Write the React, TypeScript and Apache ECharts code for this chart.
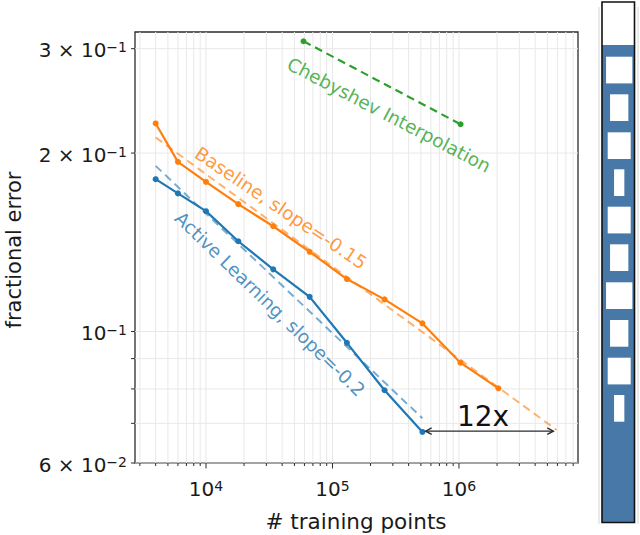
import React, { useEffect, useRef } from "react";
import * as echarts from "echarts";

// ---- data ----
const baselinePoints = [4000, 6000, 10000, 18000, 34000, 66000, 130000, 258000, 514000, 1026000, 2050000];
const baselineError = [0.2244, 0.1933, 0.1788, 0.164, 0.1505, 0.1363, 0.1226, 0.1133, 0.1032, 0.0886, 0.0802];
const activePoints = [4000, 6000, 10000, 18000, 34000, 66000, 130000, 258000, 514000];
const activeError = [0.1807, 0.171, 0.1596, 0.142, 0.1273, 0.1144, 0.0957, 0.0796, 0.0677];
const chebyshevPoints = [59000, 1030000];
const chebyshevError = [0.3088, 0.2237];
const baselineFitPoints = [4000, 5920000];
const baselineFitError = [0.2125, 0.0682];
const activeFitPoints = [4000, 514000];
const activeFitError = [0.1903, 0.0714];
// arrow: [from x, error, to x]
const speedupArrow = [545000, 0.0679, 5570000];

// ---- axes / ticks ----
const X_MIN = 2746;
const X_MAX = 8730000;
const Y_MIN = 0.06;
const Y_MAX = 0.3201;
const xMajorTicks = [10000, 100000, 1000000];
const xTickBase = ["10", "10", "10"];
const xTickExp = ["4", "5", "6"];
const xMinorTicks = [
  3000, 4000, 5000, 6000, 7000, 8000, 9000,
  20000, 30000, 40000, 50000, 60000, 70000, 80000, 90000,
  200000, 300000, 400000, 500000, 600000, 700000, 800000, 900000,
  2000000, 3000000, 4000000, 5000000, 6000000, 7000000, 8000000,
];
const yLabelTicks = [0.3, 0.2, 0.1, 0.06];
const yTickBase = ["3 \u00d7 10", "2 \u00d7 10", "10", "6 \u00d7 10"];
const yTickExp = ["\u22121", "\u22121", "\u22121", "\u22122"];
const yMinorTicks = [0.07, 0.08, 0.09];

const FONT = "DejaVu Sans";
const GRID_COLOR = "#e8e8e8";
const AXIS_COLOR = "#2b2b2b";
const ORANGE = "#ff7f0e";
const BLUE = "#1f77b4";
const GREEN = "#2ca02c";

const pairs = (xs: number[], ys: number[]) => xs.map((x, i) => [x, ys[i]]);

const tickRich = {
  b: { fontSize: 20, fontFamily: FONT, fill: "#1a1a1a", color: "#1a1a1a" },
  s: { fontSize: 14, fontFamily: FONT, fill: "#1a1a1a", color: "#1a1a1a", verticalAlign: "top" },
};

export default function App() {
  const ref = useRef<HTMLDivElement>(null);

  useEffect(() => {
    if (!ref.current) return;
    const chart = echarts.init(ref.current, undefined, { renderer: "svg" });

    const vGrid = (params: any, api: any) => {
      const x = api.coord([api.value(0), Y_MIN])[0];
      const cs = params.coordSys;
      return {
        type: "line",
        silent: true,
        shape: { x1: x, y1: cs.y, x2: x, y2: cs.y + cs.height },
        style: { stroke: GRID_COLOR, lineWidth: 1 },
      };
    };
    const hGrid = (params: any, api: any) => {
      const y = api.coord([X_MIN, api.value(1)])[1];
      const cs = params.coordSys;
      return {
        type: "line",
        silent: true,
        shape: { x1: cs.x, y1: y, x2: cs.x + cs.width, y2: y },
        style: { stroke: GRID_COLOR, lineWidth: 1 },
      };
    };
    const xTick = (len: number) => (params: any, api: any) => {
      const x = api.coord([api.value(0), Y_MIN])[0];
      const cs = params.coordSys;
      const b = cs.y + cs.height;
      return {
        type: "line",
        silent: true,
        shape: { x1: x, y1: b, x2: x, y2: b + len },
        style: { stroke: AXIS_COLOR, lineWidth: 1 },
      };
    };
    const yTick = (len: number) => (params: any, api: any) => {
      const y = api.coord([X_MIN, api.value(1)])[1];
      const cs = params.coordSys;
      return {
        type: "line",
        silent: true,
        shape: { x1: cs.x - len, y1: y, x2: cs.x, y2: y },
        style: { stroke: AXIS_COLOR, lineWidth: 1 },
      };
    };
    const xLabel = (params: any, api: any) => {
      const x = api.coord([api.value(0), Y_MIN])[0];
      const cs = params.coordSys;
      const i = api.value(2);
      return {
        type: "text",
        silent: true,
        x: x,
        y: cs.y + cs.height + 26,
        style: {
          text: "{b|" + xTickBase[i] + "}{s|" + xTickExp[i] + "}",
          rich: tickRich,
          fill: "#1a1a1a",
          fontSize: 20,
          fontFamily: FONT,
          align: "center",
          verticalAlign: "middle",
        },
      };
    };
    const yLabel = (params: any, api: any) => {
      const y = api.coord([X_MIN, api.value(1)])[1];
      const cs = params.coordSys;
      const i = api.value(2);
      return {
        type: "text",
        silent: true,
        x: cs.x - 8,
        y: y + 1.5,
        style: {
          text: "{b|" + yTickBase[i] + "}{s|" + yTickExp[i] + "}",
          rich: tickRich,
          fill: "#1a1a1a",
          fontSize: 20,
          fontFamily: FONT,
          align: "right",
          verticalAlign: "middle",
        },
      };
    };
    const arrow = (params: any, api: any) => {
      const p1 = api.coord([api.value(0), api.value(1)]);
      const p2 = api.coord([api.value(2), api.value(1)]);
      const hl = 6;
      const hw = 3.2;
      const st = { stroke: AXIS_COLOR, lineWidth: 1.4, fill: "none" };
      return {
        type: "group",
        silent: true,
        children: [
          { type: "line", shape: { x1: p1[0], y1: p1[1], x2: p2[0], y2: p2[1] }, style: st },
          {
            type: "polyline",
            shape: { points: [[p1[0] + hl, p1[1] - hw], [p1[0], p1[1]], [p1[0] + hl, p1[1] + hw]] },
            style: st,
          },
          {
            type: "polyline",
            shape: { points: [[p2[0] - hl, p2[1] - hw], [p2[0], p2[1]], [p2[0] - hl, p2[1] + hw]] },
            style: st,
          },
        ],
      };
    };

    const customBase = { type: "custom", coordinateSystem: "cartesian2d", clip: false, silent: true, animation: false };

    const whiteBlocks = [
      [56.7, 26.3], [94.3, 18.3], [132.3, 23], [169.3, 10.3], [206.7, 23],
      [244.3, 18.3], [282.3, 26.3], [320, 18.3], [357.7, 23], [395, 10.3],
    ];

    const label = (text: string, x: number, y: number, deg: number, color: string) => ({
      type: "text",
      x,
      y,
      rotation: (-deg * Math.PI) / 180,
      z: 10,
      style: {
        text,
        fill: color,
        opacity: 0.8,
        fontSize: 18.5,
        fontFamily: FONT,
        align: "center",
        verticalAlign: "middle",
      },
    });

    const option: any = {
      animation: false,
      backgroundColor: "#ffffff",
      textStyle: { fontFamily: FONT },
      grid: {
        left: 135,
        top: 32,
        width: 443,
        height: 431,
        show: true,
        borderColor: AXIS_COLOR,
        borderWidth: 1.3,
        backgroundColor: "transparent",
      },
      xAxis: {
        type: "log",
        logBase: 10,
        min: X_MIN,
        max: X_MAX,
        axisLine: { show: false },
        axisTick: { show: false },
        axisLabel: { show: false },
        splitLine: { show: false },
      },
      yAxis: {
        type: "log",
        logBase: 10,
        min: Y_MIN,
        max: Y_MAX,
        axisLine: { show: false },
        axisTick: { show: false },
        axisLabel: { show: false },
        splitLine: { show: false },
      },
      series: [
        { ...customBase, z: 1, renderItem: vGrid, data: [...xMinorTicks, ...xMajorTicks].map((v) => [v, 0.1]) },
        { ...customBase, z: 1, renderItem: hGrid, data: [...yLabelTicks, ...yMinorTicks].map((v) => [10000, v]) },
        { ...customBase, z: 3, renderItem: xTick(3), data: xMinorTicks.map((v) => [v, 0.1]) },
        { ...customBase, z: 3, renderItem: xTick(5.5), data: xMajorTicks.map((v) => [v, 0.1]) },
        { ...customBase, z: 3, renderItem: yTick(4), data: [...yLabelTicks, ...yMinorTicks].map((v) => [10000, v]) },
        { ...customBase, z: 3, renderItem: xLabel, data: xMajorTicks.map((v, i) => [v, 0.1, i]) },
        { ...customBase, z: 3, renderItem: yLabel, data: yLabelTicks.map((v, i) => [10000, v, i]) },
        {
          name: "Baseline fit",
          type: "line",
          z: 4,
          data: pairs(baselineFitPoints, baselineFitError),
          symbol: "none",
          lineStyle: { color: ORANGE, width: 2, type: [8, 5], opacity: 0.6 },
          silent: true,
        },
        {
          name: "Active fit",
          type: "line",
          z: 4,
          data: pairs(activeFitPoints, activeFitError),
          symbol: "none",
          lineStyle: { color: BLUE, width: 2, type: [8, 5], opacity: 0.6 },
          silent: true,
        },
        {
          name: "Baseline",
          type: "line",
          z: 5,
          data: pairs(baselinePoints, baselineError),
          symbol: "circle",
          symbolSize: 6,
          itemStyle: { color: ORANGE },
          lineStyle: { color: ORANGE, width: 2.2 },
          silent: true,
        },
        {
          name: "Active Learning",
          type: "line",
          z: 5,
          data: pairs(activePoints, activeError),
          symbol: "circle",
          symbolSize: 6,
          itemStyle: { color: BLUE },
          lineStyle: { color: BLUE, width: 2.2 },
          silent: true,
        },
        {
          name: "Chebyshev Interpolation",
          type: "line",
          z: 5,
          data: pairs(chebyshevPoints, chebyshevError),
          symbol: "circle",
          symbolSize: 6,
          itemStyle: { color: GREEN },
          lineStyle: { color: GREEN, width: 2.2, type: [8, 5] },
          silent: true,
        },
        { ...customBase, z: 6, renderItem: arrow, data: [speedupArrow] },
      ],
      graphic: [
        label("Chebyshev Interpolation", 389, 115, 27.5, GREEN),
        label("Baseline, slope=-0.15", 281, 208, 34, ORANGE),
        label("Active Learning, slope=-0.2", 270, 304, 44, BLUE),
        {
          type: "text",
          x: 483,
          y: 430,
          z: 10,
          style: {
            text: "12x",
            fill: "#111",
            fontSize: 28,
            fontFamily: FONT,
            align: "center",
            verticalAlign: "bottom",
          },
        },
        {
          type: "text",
          x: 14,
          y: 250,
          rotation: Math.PI / 2,
          z: 10,
          style: {
            text: "fractional error",
            fill: "#1a1a1a",
            fontSize: 21,
            fontFamily: FONT,
            align: "center",
            verticalAlign: "middle",
          },
        },
        {
          type: "text",
          x: 356,
          y: 521,
          z: 10,
          style: {
            text: "# training points",
            fill: "#1a1a1a",
            fontSize: 21.5,
            fontFamily: FONT,
            align: "center",
            verticalAlign: "middle",
          },
        },
        // side panel
        { type: "line", z: 10, shape: { x1: 599, y1: 7, x2: 599, y2: 524 }, style: { stroke: "#d6d6d6", lineWidth: 1 } },
        { type: "line", z: 10, shape: { x1: 638, y1: 7, x2: 638, y2: 524 }, style: { stroke: "#d6d6d6", lineWidth: 1 } },
        { type: "rect", z: 10, shape: { x: 602, y: 2, width: 32.5, height: 520.5 }, style: { fill: "#ffffff", stroke: "none" } },
        { type: "rect", z: 11, shape: { x: 602, y: 45, width: 32.5, height: 477.5 }, style: { fill: "#4878a8", stroke: "none" } },
        ...whiteBlocks.map(([top, w]) => ({
          type: "rect",
          z: 12,
          shape: { x: 619.2 - w / 2, y: top, width: w, height: 26.7 },
          style: { fill: "#ffffff", stroke: "none" },
        })),
        { type: "rect", z: 13, shape: { x: 602, y: 2, width: 32.5, height: 520.5 }, style: { fill: "none", stroke: "#111", lineWidth: 1.6 } },
      ],
    };

    chart.setOption(option);
    return () => {
      chart.dispose();
    };
  }, []);

  return (
    <div
      ref={ref}
      style={{ position: "fixed", left: 0, top: 0, width: 640, height: 535, background: "#fff" }}
    />
  );
}
